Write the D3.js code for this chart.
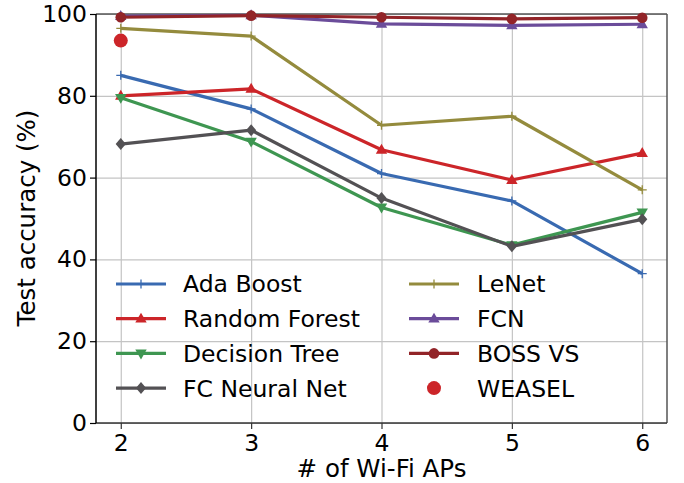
<!DOCTYPE html>
<html>
<head>
<meta charset="utf-8">
<script src="https://cdn.jsdelivr.net/npm/d3@7"></script>
<style>
  body { margin: 0; background: #fff; }
  text { font-family: "DejaVu Sans", sans-serif; }
</style>
</head>
<body>
<svg width="684" height="483"></svg>
<script>
let svg = d3.select("svg");

let aps = [2, 3, 4, 5, 6];
let yTicks = [0, 20, 40, 60, 80, 100];

let adaBoost = [85.0, 76.8, 61.0, 54.3, 36.5];
let randomForest = [80.0, 81.7, 66.8, 59.4, 66.0];
let decisionTree = [79.5, 68.8, 52.7, 43.5, 51.5];
let fcNeuralNet = [68.2, 71.6, 55.0, 43.2, 49.8];
let leNet = [96.5, 94.6, 72.8, 75.0, 57.0];
let fcn = [99.5, 99.7, 97.6, 97.2, 97.5];
let bossVs = [99.2, 99.6, 99.2, 98.8, 99.1];
let weaselX = [2];
let weasel = [93.5];

let series = [
    {name: 'Ada Boost', x: aps, y: adaBoost, color: '#396ab1', marker: 'plus', line: true},
    {name: 'Random Forest', x: aps, y: randomForest, color: '#cc2529', marker: 'tri', line: true},
    {name: 'Decision Tree', x: aps, y: decisionTree, color: '#3e9651', marker: 'tridown', line: true},
    {name: 'FC Neural Net', x: aps, y: fcNeuralNet, color: '#535154', marker: 'diamond', line: true},
    {name: 'LeNet', x: aps, y: leNet, color: '#948b3d', marker: 'plus', line: true},
    {name: 'FCN', x: aps, y: fcn, color: '#6b4c9a', marker: 'tri', line: true},
    {name: 'BOSS VS', x: aps, y: bossVs, color: '#922428', marker: 'circle', line: true},
    {name: 'WEASEL', x: weaselX, y: weasel, color: '#cc2529', marker: 'bigcircle', line: false}
];

let pLeft = 96, pRight = 667, pTop = 14, pBottom = 423;
let fontsize = '23.5px';
let labelsize = '24.5px';

let x = d3.scaleLinear().domain([1.81, 6.19]).range([pLeft, pRight]);
let y = d3.scaleLinear().domain([0, 100]).range([pBottom, pTop]);

// grid
svg.append("g")
    .attr("transform", `translate(0,${pBottom})`)
    .call(d3.axisBottom(x).tickValues(aps).tickSize(-(pBottom - pTop)).tickFormat(""))
    .call(g => g.select(".domain").remove())
    .selectAll("line").attr("stroke", "#c4c4c4").attr("stroke-width", 1.2);
svg.append("g")
    .attr("transform", `translate(${pLeft},0)`)
    .call(d3.axisLeft(y).tickValues(yTicks).tickSize(-(pRight - pLeft)).tickFormat(""))
    .call(g => g.select(".domain").remove())
    .selectAll("line").attr("stroke", "#c4c4c4").attr("stroke-width", 1.2);

// frame
svg.append("line").attr("x1", pLeft).attr("x2", pRight).attr("y1", pTop).attr("y2", pTop)
    .attr("stroke", "#555").attr("stroke-width", 1.5);
svg.append("line").attr("x1", pRight).attr("x2", pRight).attr("y1", pTop).attr("y2", pBottom)
    .attr("stroke", "#555").attr("stroke-width", 1.5);

function markerPath(type, size) {
    let s = size;
    if (type === 'plus') return `M${-s},0H${s}M0,${-s}V${s}`;
    if (type === 'tri') return `M0,${-s}L${s * 0.95},${s * 0.65}L${-s * 0.95},${s * 0.65}Z`;
    if (type === 'tridown') return `M0,${s}L${s * 0.95},${-s * 0.65}L${-s * 0.95},${-s * 0.65}Z`;
    if (type === 'diamond') return `M0,${-s}L${s * 0.85},0L0,${s}L${-s * 0.85},0Z`;
    return null;
}

function drawMarker(g, type, color, cx, cy) {
    if (type === 'circle' || type === 'bigcircle') {
        g.append("circle").attr("cx", cx).attr("cy", cy)
            .attr("r", type === 'circle' ? 5.3 : 7).attr("fill", color);
    } else if (type === 'plus') {
        g.append("path").attr("d", markerPath(type, 4.5))
            .attr("transform", `translate(${cx},${cy})`)
            .attr("stroke", color).attr("stroke-width", 1.3).attr("fill", "none");
    } else {
        g.append("path").attr("d", markerPath(type, 6))
            .attr("transform", `translate(${cx},${cy})`)
            .attr("fill", color);
    }
}

let plot = svg.append("g");
let line = d3.line().x(d => x(d[0])).y(d => y(d[1]));

series.forEach(s => {
    let pts = s.x.map((v, i) => [v, s.y[i]]);
    if (s.line) {
        plot.append("path").datum(pts)
            .attr("d", line)
            .attr("fill", "none")
            .attr("stroke", s.color)
            .attr("stroke-width", 3.2)
            .attr("stroke-linejoin", "round");
    }
    pts.forEach(p => drawMarker(plot, s.marker, s.color, x(p[0]), y(p[1])));
});

// axes
let xAxis = svg.append("g")
    .attr("transform", `translate(0,${pBottom})`)
    .call(d3.axisBottom(x).tickValues(aps).tickFormat(d3.format("d")).tickSize(6).tickPadding(5));
xAxis.select(".domain").attr("stroke", "#333").attr("stroke-width", 1.5).attr("d", `M${pLeft},0H${pRight}`);
xAxis.selectAll("line").attr("stroke", "#333").attr("stroke-width", 1.2);
xAxis.selectAll("text").style("font-size", fontsize).attr("fill", "#000");

let yAxis = svg.append("g")
    .attr("transform", `translate(${pLeft},0)`)
    .call(d3.axisLeft(y).tickValues(yTicks).tickSize(6).tickPadding(3));
yAxis.select(".domain").attr("stroke", "#000").attr("stroke-width", 1.5).attr("d", `M0,${pTop}V${pBottom}`);
yAxis.selectAll("line").attr("stroke", "#000").attr("stroke-width", 1.2);
yAxis.selectAll("text").style("font-size", fontsize).attr("fill", "#000");

svg.append("text")
    .attr("x", (pLeft + pRight) / 2)
    .attr("y", 477)
    .attr("text-anchor", "middle")
    .style("font-size", labelsize)
    .text("# of Wi-Fi APs");

svg.append("text")
    .attr("transform", `translate(35,218) rotate(-90)`)
    .attr("text-anchor", "middle")
    .style("font-size", labelsize)
    .text("Test accuracy (%)");

// legend
let legendCols = [{x0: 116, tx: 183}, {x0: 409, tx: 477}];
let rowY = 284, rowStep = 34.7;
series.forEach((s, i) => {
    let col = legendCols[Math.floor(i / 4)];
    let ly = rowY + (i % 4) * rowStep;
    let g = svg.append("g");
    if (s.line) {
        g.append("line").attr("x1", col.x0).attr("x2", col.x0 + 50)
            .attr("y1", ly).attr("y2", ly)
            .attr("stroke", s.color).attr("stroke-width", 3.2);
    }
    drawMarker(g, s.marker, s.color, col.x0 + 25, ly);
    g.append("text")
        .attr("x", col.tx)
        .attr("y", ly)
        .attr("dy", "0.36em")
        .style("font-size", fontsize)
        .text(s.name);
});
</script>
</body>
</html>
